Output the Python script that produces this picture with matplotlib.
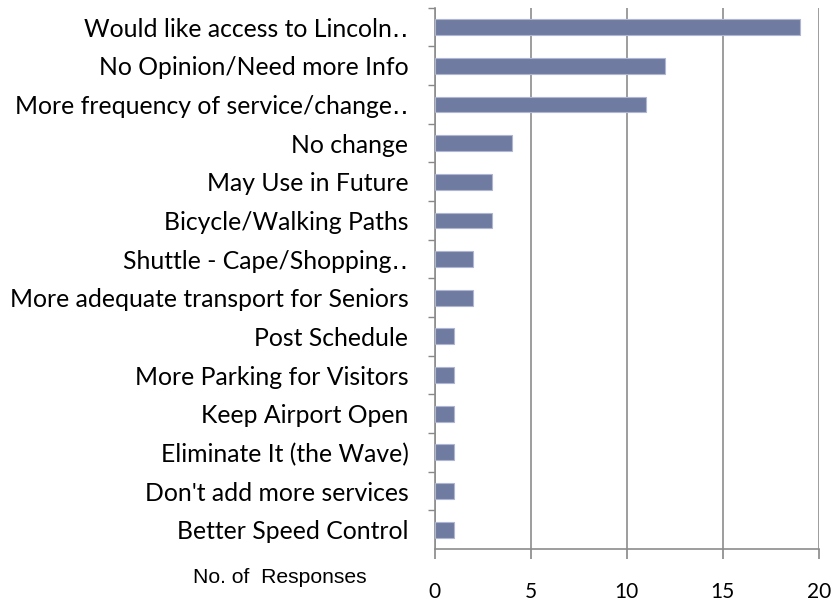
import matplotlib.pyplot as plt

categories = [
    "Would like access to Lincoln\u2025",
    "No Opinion/Need more Info",
    "More frequency of service/change\u2025",
    "No change",
    "May Use in Future",
    "Bicycle/Walking Paths",
    "Shuttle - Cape/Shopping\u2025",
    "More adequate transport for Seniors",
    "Post Schedule",
    "More Parking for Visitors",
    "Keep Airport Open",
    "Eliminate It (the Wave)",
    "Don't add more services",
    "Better Speed Control",
]
responses = [19, 12, 11, 4, 3, 3, 2, 2, 1, 1, 1, 1, 1, 1]
x_ticks = [0, 5, 10, 15, 20]

fonts = ["Lato", "DejaVu Sans"]

fig = plt.figure(figsize=(8.33, 6.02), dpi=100)
ax = fig.add_axes([0.522, 0.088, 0.461, 0.899])

pos = list(range(len(categories)))[::-1]
ax.barh(pos, responses, height=0.41, color="#6F7BA0", edgecolor="#AEB6D3", linewidth=0.8, zorder=3)

ax.set_xlim(0, 20)
ax.set_ylim(-0.5, len(categories) - 0.5)
ax.set_xticks(x_ticks)
ax.set_xticklabels([str(t) for t in x_ticks], fontsize=15, family=fonts)
ax.set_yticks(pos)
ax.set_yticklabels(categories, fontsize=17.8, family=fonts)
ax.set_yticks([p + 0.5 for p in range(len(categories))], minor=True)

ax.tick_params(axis="y", which="major", length=0, pad=19)
ax.tick_params(axis="y", which="minor", length=5, color="#888888", width=1)
ax.tick_params(axis="x", length=7, color="#888888", width=1.2, pad=17)

ax.grid(axis="x", color="#8C8C8C", linewidth=1.2, zorder=0)
for s in ["top", "right"]:
    ax.spines[s].set_visible(False)
for s in ["left", "bottom"]:
    ax.spines[s].set_color("#8C8C8C")
    ax.spines[s].set_linewidth(1.2)

fig.text(0.336, 0.0415, "No. of  Responses", fontsize=15.2, family="Liberation Sans", ha="center", va="center")

plt.savefig("out.png", dpi=100)
